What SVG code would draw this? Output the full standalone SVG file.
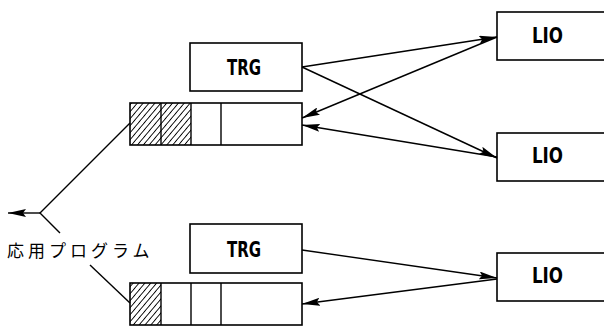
<svg xmlns="http://www.w3.org/2000/svg" width="604" height="326" viewBox="0 0 604 326">
<style>
.box{fill:#fff;stroke:#000;stroke-width:1.6}
.div{stroke:#000;stroke-width:1.4}
.lbl{font-family:"DejaVu Sans Condensed","Liberation Sans",sans-serif;font-weight:bold;font-size:21px;text-anchor:middle}
.jp{font-family:"Noto Sans CJK JP",sans-serif;font-size:17px;letter-spacing:4px}
.con{fill:none;stroke:#000;stroke-width:1.4}
.arr{marker-end:url(#ah)}
</style>
<defs>
<marker id="ah" viewBox="0 0 18 8" refX="18" refY="4" markerWidth="18" markerHeight="8" markerUnits="userSpaceOnUse" orient="auto">
<path d="M0,0 L18,4 L0,8 L3,4 Z" fill="#000"/>
</marker>
<pattern id="hatch" patternUnits="userSpaceOnUse" width="4.5" height="4.5" patternTransform="rotate(40)">
<line x1="0" y1="0" x2="0" y2="4.5" stroke="#000" stroke-width="1.8"/>
</pattern>
</defs>
<rect width="604" height="326" fill="#fff"/>
<g id="trg1"><rect class="box" x="190" y="43" width="112" height="48"/><text class="lbl" x="244" y="75" textLength="34" lengthAdjust="spacingAndGlyphs">TRG</text></g>
<g id="buf1">
<rect x="130" y="103" width="61" height="42" fill="url(#hatch)"/>
<rect class="box" x="130" y="103" width="172" height="42" style="fill:none"/>
<line class="div" x1="161" y1="103" x2="161" y2="145"/>
<line class="div" x1="191" y1="103" x2="191" y2="145"/>
<line class="div" x1="221" y1="103" x2="221" y2="145"/>
</g>
<g id="lio1"><rect class="box" x="497" y="12" width="112" height="48"/><text class="lbl" x="547.5" y="43" textLength="31" lengthAdjust="spacingAndGlyphs">LIO</text></g>
<g id="lio2"><rect class="box" x="497" y="133" width="112" height="48"/><text class="lbl" x="547.5" y="163" textLength="31" lengthAdjust="spacingAndGlyphs">LIO</text></g>
<g id="trg2"><rect class="box" x="190" y="224" width="112" height="49"/><text class="lbl" x="244" y="257" textLength="34" lengthAdjust="spacingAndGlyphs">TRG</text></g>
<g id="lio3"><rect class="box" x="497" y="253" width="112" height="48"/><text class="lbl" x="547.5" y="283" textLength="31" lengthAdjust="spacingAndGlyphs">LIO</text></g>
<g id="buf2">
<rect x="130" y="283" width="31" height="42" fill="url(#hatch)"/>
<rect class="box" x="130" y="283" width="172" height="42" style="fill:none"/>
<line class="div" x1="161" y1="283" x2="161" y2="325"/>
<line class="div" x1="191" y1="283" x2="191" y2="325"/>
<line class="div" x1="221" y1="283" x2="221" y2="325"/>
</g>
<g id="app"><text class="jp" x="7" y="257">応用プログラム</text></g>
<g id="connectors">
<line class="con arr" x1="302" y1="67" x2="497" y2="37"/>
<line class="con arr" x1="302" y1="67" x2="497" y2="158"/>
<line class="con arr" x1="497" y1="37" x2="302" y2="118"/>
<line class="con arr" x1="497" y1="157" x2="302" y2="125"/>
<line class="con arr" x1="302" y1="250" x2="497" y2="278"/>
<line class="con arr" x1="497" y1="279" x2="302" y2="304"/>
<polyline class="con" points="130,123 40,213 60,233"/>
<line class="con arr" x1="40" y1="213" x2="8" y2="213"/>
<line class="con" x1="90" y1="265" x2="130" y2="303"/>
</g>
</svg>
